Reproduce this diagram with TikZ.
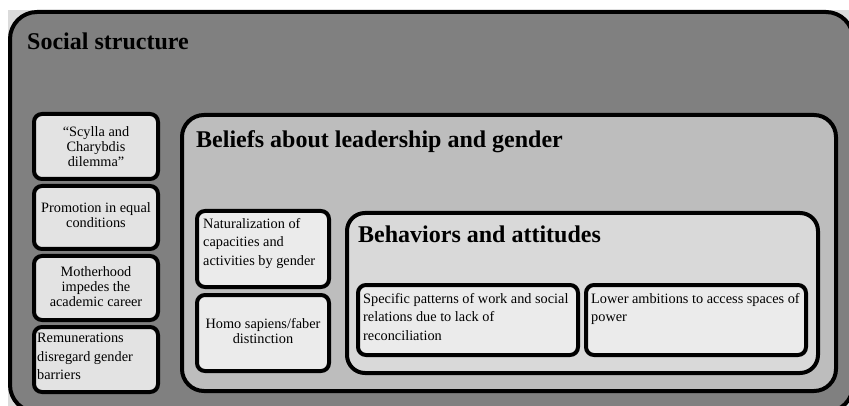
\documentclass[tikz,border=0pt]{standalone}
\usepackage{fontspec}
\setmainfont{Liberation Serif}
\usepackage{tikz}

\definecolor{framegray}{gray}{0.86}
\definecolor{outergray}{gray}{0.5}
\definecolor{beliefgray}{gray}{0.74}
\definecolor{behavgray}{gray}{0.85}
\definecolor{itemgray}{gray}{0.89}
\definecolor{leafgray}{gray}{0.92}

\begin{document}
\begin{tikzpicture}[x=1pt, y=-1pt,
    box/.style={draw=black, line width=4pt, anchor=north west, inner sep=0pt, outer sep=0pt},
    item/.style={box, fill=itemgray, rounded corners=8pt},
    bigtitle/.style={anchor=base west, inner sep=0pt, font=\bfseries\fontsize{24}{28}\selectfont},
    ctext/.style={align=center, inner sep=0pt, font=\fontsize{14.3}{15}\selectfont},
    ltext/.style={anchor=north west, align=left, inner sep=0pt, font=\fontsize{14.3}{18.5}\selectfont}]
    \useasboundingbox (0,0) rectangle (849,406);
    \clip (0,0) rectangle (849,406);

    % Background
    \fill[white] (0,0) rectangle (849,406);
    \fill[framegray] (8,10) rectangle (849,406);

    % Social structure
    \node[box, fill=outergray, rounded corners=27pt, minimum width=843pt, minimum height=400pt] (social) at (10,12) {};
    \node[bigtitle] (socialtitle) at (27,50) {Social structure};

    % Left column
    \node[item, minimum width=124pt, minimum height=65pt] (scylla) at (34,114) {};
    \node[item, minimum width=124pt, minimum height=63pt] (promo) at (34,186) {};
    \node[item, minimum width=124pt, minimum height=64pt] (mother) at (34,256) {};
    \node[item, minimum width=124pt, minimum height=65pt] (remun) at (34,327) {};
    \node[ctext] (scyllatext) at (scylla) {“Scylla and\\Charybdis\\dilemma”};
    \node[ctext] (promotext) at ([yshift=2pt]promo) {Promotion in equal\\conditions};
    \node[ctext] (mothertext) at ([yshift=1pt]mother) {Motherhood\\impedes the\\academic career};
    \node[ltext] (remuntext) at (37,333) {Remunerations\\disregard gender\\barriers};

    % Beliefs about leadership and gender
    \node[box, fill=beliefgray, rounded corners=22pt, minimum width=654pt, minimum height=276pt] (beliefs) at (182,115) {};
    \node[bigtitle] (beliefstitle) at (196,148) {Beliefs about leadership and gender};
    \node[item, fill=leafgray, minimum width=132pt, minimum height=76pt] (natur) at (197,211) {};
    \node[item, fill=leafgray, minimum width=132pt, minimum height=76pt] (homo) at (197,295) {};
    \node[ltext] (naturtext) at (203,218) {Naturalization of\\capacities and\\activities by gender};
    \node[ctext] (homotext) at ([yshift=2pt]homo) {Homo sapiens/faber\\distinction};

    % Behaviors and attitudes
    \node[box, fill=behavgray, rounded corners=18pt, minimum width=471pt, minimum height=160pt] (behav) at (347,213) {};
    \node[bigtitle] (behavtitle) at (358,243) {Behaviors and attitudes};
    \node[item, fill=leafgray, minimum width=220pt, minimum height=70pt] (specific) at (358,285) {};
    \node[item, fill=leafgray, minimum width=220pt, minimum height=70pt] (lower) at (586,285) {};
    \node[ltext] (specifictext) at (363,293) {Specific patterns of work and social\\relations due to lack of\\reconciliation};
    \node[ltext] (lowertext) at (591,293) {Lower ambitions to access spaces of\\power};
\end{tikzpicture}
\end{document}
